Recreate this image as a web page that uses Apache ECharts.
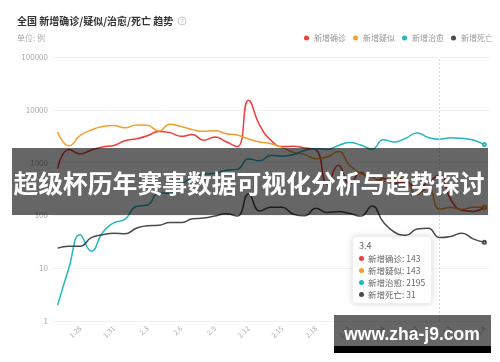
<!DOCTYPE html>
<html><head><meta charset="utf-8">
<script src="https://cdn.jsdelivr.net/npm/echarts@6/dist/echarts.min.js"></script>
<style>html,body{margin:0;padding:0;background:#fff;}#c{width:500px;height:362px;}</style>
</head><body><div id="c"></div>
<script>
const dates = ['1.26','1.27','1.28','1.29','1.30','1.31',
  '2.1','2.2','2.3','2.4','2.5','2.6','2.7','2.8','2.9','2.10','2.11','2.12','2.13','2.14','2.15',
  '2.16','2.17','2.18','2.19','2.20','2.21','2.22','2.23','2.24','2.25','2.26','2.27','2.28','2.29',
  '3.1','3.2','3.3','3.4'];
const confirmed = [769,1771,1459,1737,1982,2102,
  2590,2829,3235,3887,3694,3143,3399,2656,3062,2478,2015,15152,5090,2641,2009,
  2048,1886,1749,394,889,397,648,409,508,406,433,327,427,573,
  202,125,119,143];
const suspected = [3806,2077,3248,4148,4812,5019,
  4562,5173,5072,3971,5328,4833,4214,3916,4008,3536,3342,2807,2450,2277,1918,
  1563,1432,1185,1277,1614,882,620,530,439,508,452,248,335,132,
  141,129,143,143];
const cured = [2,10,43,21,47,72,
  85,147,157,262,261,387,510,600,632,716,744,1171,1081,1373,1323,
  1425,1701,1824,1779,2109,2393,2150,1800,2700,2450,2900,3650,3000,2770,
  2960,2880,2690,2195];
const deaths = [24,26,26,38,43,46,
  45,57,64,65,73,73,86,89,97,108,97,254,121,143,142,
  105,98,136,114,118,109,97,150,75,48,42,55,57,38,
  40,46,36,31];
const seriesNames = ['新增确诊','新增疑似','新增治愈','新增死亡'];
const seriesColors = ['#f03c3c','#f59e2c','#23b7c1','#4a4a4a'];
const titleText = '全国 新增确诊/疑似/治愈/死亡 趋势';
const unitText = '单位: 例';
const bannerText = '超级杯历年赛事数据可视化分析与趋势探讨';
const watermarkText = 'www.zha-j9.com';
const tipIndex = 38;
const markDate = '2.29';

const FONT = "'Noto Sans CJK SC','Noto Sans',sans-serif";
const allData = [confirmed, suspected, cured, deaths];

function withLast(arr){
  return arr.map((v,i)=> i===arr.length-1 ? {value:v, symbol:'emptyCircle', symbolSize:3} : v);
}

const chart = echarts.init(document.getElementById('c'), null, {renderer:'canvas'});
const series = seriesNames.map((n,k)=>({
  name:n, type:'line', smooth:true, symbol:'none', showSymbol:true,
  data: withLast(allData[k]),
  lineStyle:{width:1.5, color:seriesColors[k]},
  itemStyle:{color:seriesColors[k], borderWidth:1},
  emphasis:{disabled:true, scale:false},
  z:2
}));
series[0].markLine = {
  silent:true, symbol:'none', label:{show:false},
  lineStyle:{color:'#d8d8d8', type:[2,2], width:1},
  data:[{xAxis:markDate}]
};

chart.setOption({
  animation:false,
  textStyle:{fontFamily:FONT},
  title:[
    {text:titleText, left:17, top:16, padding:0,
     textStyle:{fontSize:10, fontWeight:'bold', color:'#333', fontFamily:FONT}},
    {text:unitText, left:17, top:34, padding:0,
     textStyle:{fontSize:8, fontWeight:'normal', color:'#aaa', fontFamily:FONT}}
  ],
  legend:{
    data:seriesNames, icon:'circle', itemWidth:5, itemHeight:5, itemGap:7,
    right:7, top:34, padding:0,
    textStyle:{fontSize:8, color:'#999', fontFamily:FONT}
  },
  grid:{left:52, right:10, top:57, bottom:41},
  tooltip:{
    trigger:'axis', triggerOn:'none', alwaysShowContent:true,
    axisPointer:{type:'none'},
    position:[352,236],
    backgroundColor:'#fff', borderColor:'#eee', borderWidth:1,
    padding:[3,6],
    extraCssText:'box-shadow:0 0 6px rgba(0,0,0,0.15);border-radius:4px;',
    textStyle:{fontSize:8.5, color:'#666', fontFamily:FONT},
    formatter:function(params){
      let h = '<div style="line-height:12px;font-size:9px;color:#666">'+params[0].axisValue+'</div>';
      params.forEach(p=>{
        h += '<div style="line-height:12px;font-size:8.5px;color:#666"><span style="display:inline-block;width:5px;height:5px;border-radius:50%;background:'+p.color+';margin-right:4px;vertical-align:middle;position:relative;top:-1px"></span>'+p.seriesName+': '+p.value+'</div>';
      });
      return h;
    }
  },
  xAxis:{
    type:'category', data:dates, boundaryGap:true,
    axisLine:{show:false}, axisTick:{show:false},
    axisLabel:{rotate:45, fontSize:7, color:'#aaa', margin:6, interval:function(i){return i%3===2;}}
  },
  yAxis:{
    type:'log', logBase:10, min:1, max:100000,
    axisLine:{show:false}, axisTick:{show:false},
    axisLabel:{fontSize:8, color:'#aaa', margin:4, formatter:function(v){return String(Math.round(v));}},
    splitLine:{lineStyle:{color:'#f2f2f2', width:1}}
  },
  series:series,
  graphic:[
    {type:'circle', shape:{cx:182, cy:21, r:4}, style:{fill:'none', stroke:'#bbb', lineWidth:0.8}, z:50},
    {type:'text', x:182, y:21.5, style:{text:'?', fill:'#bbb', font:'6px sans-serif', align:'center', verticalAlign:'middle'}, z:50},
    {type:'rect', shape:{x:12, y:148, width:476, height:67}, style:{fill:'rgba(0,0,0,0.6)'}, z:100},
    {type:'text', x:249, y:184, style:{text:bannerText, fill:'#fff', font:"bold 24.8px 'Noto Sans CJK SC'", align:'center', verticalAlign:'middle'}, z:101},
    {type:'rect', shape:{x:334, y:315, width:157, height:31}, style:{fill:'rgba(0,0,0,0.6)'}, z:100},
    {type:'rect', shape:{x:334, y:346, width:157, height:7}, style:{fill:'#000'}, z:100},
    {type:'text', x:412, y:335, style:{text:watermarkText, fill:'#fff', font:"bold 17.5px 'Liberation Sans'", align:'center', verticalAlign:'middle'}, z:101}
  ]
});
chart.dispatchAction({type:'showTip', seriesIndex:0, dataIndex:tipIndex});
</script>
</body></html>
